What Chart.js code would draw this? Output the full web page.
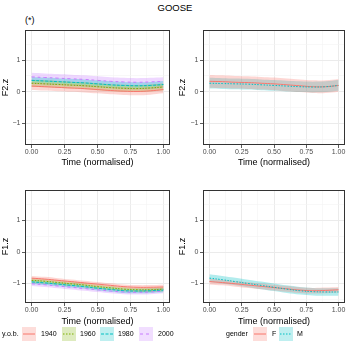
<!DOCTYPE html>
<html>
<head>
<meta charset="utf-8">
<script src="https://cdn.jsdelivr.net/npm/chart.js@4.4.1/dist/chart.umd.min.js"></script>
<style>
  body { margin: 0; background: #fff; width: 350px; height: 350px; position: relative; overflow: hidden;
         font-family: "Liberation Sans", Arial, sans-serif; }
  .panel { position: absolute; }
  .txt { position: absolute; white-space: nowrap; color: #000; }
  .key { position: absolute; width: 14px; height: 14px; }
  .lab { position: absolute; font-size: 7px; line-height: 14px; color: #000; }
</style>
</head>
<body>
<div class="txt" id="title" style="left:0;width:350px;text-align:center;top:2px;font-size:9.5px"></div>
<div class="txt" id="tag" style="left:25px;top:15px;font-size:9px"></div>
<div class="panel" style="left:0;top:25px;width:175px;height:145px"><canvas id="f2yob"></canvas></div>
<div class="panel" style="left:177px;top:25px;width:173px;height:145px"><canvas id="f2gender"></canvas></div>
<div class="panel" style="left:0;top:185px;width:175px;height:144px"><canvas id="f1yob"></canvas></div>
<div class="panel" style="left:177px;top:185px;width:173px;height:144px"><canvas id="f1gender"></canvas></div>
<div id="legends"></div>

<script>
/* ---------- data ---------- */
const chartTitle = "GOOSE";
const panelTag = "(*)";
const xTitle = "Time (normalised)";

const times = [0, 0.1, 0.2, 0.3, 0.4, 0.5, 0.6, 0.7, 0.8, 0.9, 1.0];
const xTickValues = [0, 0.25, 0.5, 0.75, 1];
const xTickLabels = ["0.00", "0.25", "0.50", "0.75", "1.00"];
const yTickValues = [-1, 0, 1];
const yTickLabels = ["\u22121", "0", "1"];

const yobLevels = ["1940", "1960", "1980", "2000"];
const genderLevels = ["F", "M"];

// F2.z by year of birth
const f2y1940 = [0.18, 0.16, 0.14, 0.12, 0.10, 0.07, 0.04, 0.02, 0.01, 0.03, 0.07];
const f2y1960 = [0.27, 0.25, 0.23, 0.21, 0.19, 0.16, 0.13, 0.11, 0.10, 0.12, 0.15];
const f2y1980 = [0.36, 0.34, 0.32, 0.30, 0.28, 0.25, 0.22, 0.20, 0.19, 0.20, 0.23];
const f2y2000 = [0.47, 0.45, 0.43, 0.41, 0.39, 0.36, 0.33, 0.31, 0.30, 0.31, 0.33];
const f2yobBand = [0.12, 0.11, 0.11, 0.13];

// F2.z by gender
const f2F = [0.33, 0.32, 0.30, 0.29, 0.27, 0.25, 0.22, 0.19, 0.16, 0.16, 0.20];
const f2M = [0.27, 0.26, 0.25, 0.24, 0.22, 0.20, 0.18, 0.16, 0.15, 0.16, 0.20];
const f2genderBand = [0.2, 0.17];

// F1.z by year of birth
const f1y1940 = [-0.83, -0.86, -0.90, -0.94, -0.98, -1.02, -1.06, -1.10, -1.12, -1.12, -1.11];
const f1y1960 = [-0.90, -0.93, -0.97, -1.01, -1.05, -1.10, -1.14, -1.18, -1.20, -1.20, -1.18];
const f1y1980 = [-0.95, -0.98, -1.02, -1.06, -1.10, -1.15, -1.19, -1.23, -1.24, -1.23, -1.21];
const f1y2000 = [-1.01, -1.04, -1.08, -1.12, -1.16, -1.20, -1.24, -1.27, -1.28, -1.27, -1.24];
const f1yobBand = [0.07, 0.07, 0.07, 0.07];

// F1.z by gender
const f1F = [-0.94, -0.97, -1.01, -1.05, -1.09, -1.13, -1.17, -1.21, -1.23, -1.22, -1.20];
const f1M = [-0.83, -0.88, -0.94, -1.00, -1.06, -1.12, -1.18, -1.23, -1.26, -1.27, -1.27];
const f1genderBand = [0.09, 0.12];

/* ---------- styling ---------- */
const yobColors = ["#F8766D", "#7CAE00", "#00BFC4", "#C77CFF"];
const yobDash = [[], [1.5, 1.5], [3, 1.5], [3, 3]];
const genderColors = ["#F8766D", "#00BFC4"];
const genderDash = [[], [1.5, 1.5]];

Chart.defaults.font.family = '"Liberation Sans", Arial, sans-serif';
Chart.defaults.animation = false;

function alpha(hex, a) {
  const n = parseInt(hex.slice(1), 16);
  return `rgba(${n >> 16},${(n >> 8) & 255},${n & 255},${a})`;
}

function pts(vals, shift) {
  return times.map((t, i) => ({ x: t, y: vals[i] + shift }));
}

const borderBox = {
  id: "borderBox",
  afterDraw(chart) {
    const a = chart.chartArea, ctx = chart.ctx;
    ctx.save();
    ctx.strokeStyle = "#333333";
    ctx.lineWidth = 1;
    ctx.strokeRect(a.left + 0.5, a.top + 0.5, a.right - a.left - 1, a.bottom - a.top - 1);
    ctx.restore();
  }
};

function makePanel(id, series, bands, colors, dashes, yTitle, yMin, yMax, yW, xH, padTop) {
  const datasets = [];
  series.forEach((s, i) => {
    datasets.push({ data: pts(s, bands[i]), borderWidth: 0, pointRadius: 0,
      fill: "+1", backgroundColor: alpha(colors[i], 0.3), tension: 0.4 });
    datasets.push({ data: pts(s, -bands[i]), borderWidth: 0, pointRadius: 0,
      fill: false, tension: 0.4 });
  });
  for (let i = series.length - 1; i >= 0; i--) {
    datasets.push({ data: pts(series[i], 0), borderColor: colors[i], borderWidth: 1,
      borderDash: dashes[i], pointRadius: 0, fill: false, tension: 0.4 });
  }

  const majorX = v => xTickValues.includes(v);
  const majorY = v => yTickValues.includes(v);

  new Chart(document.getElementById(id), {
    type: "line",
    data: { datasets },
    plugins: [borderBox],
    options: {
      responsive: true,
      maintainAspectRatio: false,
      devicePixelRatio: 1,
      layout: { padding: { top: padTop, right: 5, left: 0, bottom: 0 } },
      plugins: { legend: { display: false }, tooltip: { enabled: false },
                 filler: { drawTime: "beforeDatasetsDraw" } },
      scales: {
        x: {
          type: "linear", min: -0.05, max: 1.05, bounds: "data",
          afterBuildTicks: s => { s.ticks = [0, 0.125, 0.25, 0.375, 0.5, 0.625, 0.75, 0.875, 1].map(v => ({ value: v })); },
          afterFit: s => { s.height = xH; s.paddingLeft = 0; s.paddingRight = 0; },
          ticks: { autoSkip: false, maxRotation: 0, padding: 0, color: "#4D4D4D", font: { size: 7 },
                   callback: v => majorX(v) ? xTickLabels[xTickValues.indexOf(v)] : "" },
          grid: { color: c => majorX(c.tick.value) ? "#EBEBEB" : "#F4F4F4",
                  lineWidth: c => majorX(c.tick.value) ? 1 : 0.6,
                  tickColor: c => majorX(c.tick.value) ? "#333333" : "rgba(0,0,0,0)",
                  tickLength: 3, tickWidth: 0.8 },
          border: { display: false },
          title: { display: true, text: xTitle, color: "#000", font: { size: 9 }, padding: { top: 0, bottom: 2.5 } }
        },
        y: {
          type: "linear", min: yMin, max: yMax, bounds: "data",
          afterBuildTicks: s => { s.ticks = [-1.5, -1, -0.5, 0, 0.5, 1, 1.5].map(v => ({ value: v })); },
          afterFit: s => { s.width = yW; s.paddingTop = 0; s.paddingBottom = 0; },
          ticks: { autoSkip: false, padding: 1.5, color: "#4D4D4D", font: { size: 7 },
                   callback: v => majorY(v) ? yTickLabels[yTickValues.indexOf(v)] : "" },
          grid: { color: c => majorY(c.tick.value) ? "#EBEBEB" : "#F4F4F4",
                  lineWidth: c => majorY(c.tick.value) ? 1 : 0.6,
                  tickColor: c => majorY(c.tick.value) ? "#333333" : "rgba(0,0,0,0)",
                  tickLength: 3, tickWidth: 0.8 },
          border: { display: false },
          title: { display: true, text: yTitle, color: "#000", font: { size: 9 }, padding: { top: 0, bottom: 0 } }
        }
      }
    }
  });
}

makePanel("f2yob", [f2y1940, f2y1960, f2y1980, f2y2000], f2yobBand, yobColors, yobDash, "F2.z", -1.68, 1.95, 25, 25, 5);
makePanel("f2gender", [f2F, f2M], f2genderBand, genderColors, genderDash, "F2.z", -1.68, 1.95, 26, 25, 5);
makePanel("f1yob", [f1y1940, f1y1960, f1y1980, f1y2000], f1yobBand, yobColors, yobDash, "F1.z", -1.62, 1.97, 25, 26, 5);
makePanel("f1gender", [f1F, f1M], f1genderBand, genderColors, genderDash, "F1.z", -1.62, 1.97, 26, 26, 5);

/* ---------- titles and legends ---------- */
document.getElementById("title").textContent = chartTitle;
document.getElementById("tag").textContent = panelTag;

function keySvg(color, dash) {
  const d = dash.length ? `stroke-dasharray="${dash.join(",")}"` : "";
  return `<svg width="14" height="14"><rect width="14" height="14" fill="${alpha(color, 0.25)}"/>` +
         `<line x1="1" y1="7" x2="13" y2="7" stroke="${color}" stroke-width="1" ${d}/></svg>`;
}

function addLegend(title, titleX, levels, colors, dashes, keyXs, labXs) {
  const box = document.getElementById("legends");
  const top = 327;
  let html = `<div class="lab" style="left:${titleX}px;top:${top}px">${title}</div>`;
  levels.forEach((lv, i) => {
    html += `<div class="key" style="left:${keyXs[i]}px;top:${top}px">${keySvg(colors[i], dashes[i])}</div>`;
    html += `<div class="lab" style="left:${labXs[i]}px;top:${top}px">${lv}</div>`;
  });
  box.insertAdjacentHTML("beforeend", html);
}

addLegend("y.o.b.", 2, yobLevels, yobColors, yobDash, [22, 62, 100, 139], [41, 80, 118, 158]);
addLegend("gender", 226, genderLevels, genderColors, genderDash, [253, 279], [272, 297]);
</script>
</body>
</html>
